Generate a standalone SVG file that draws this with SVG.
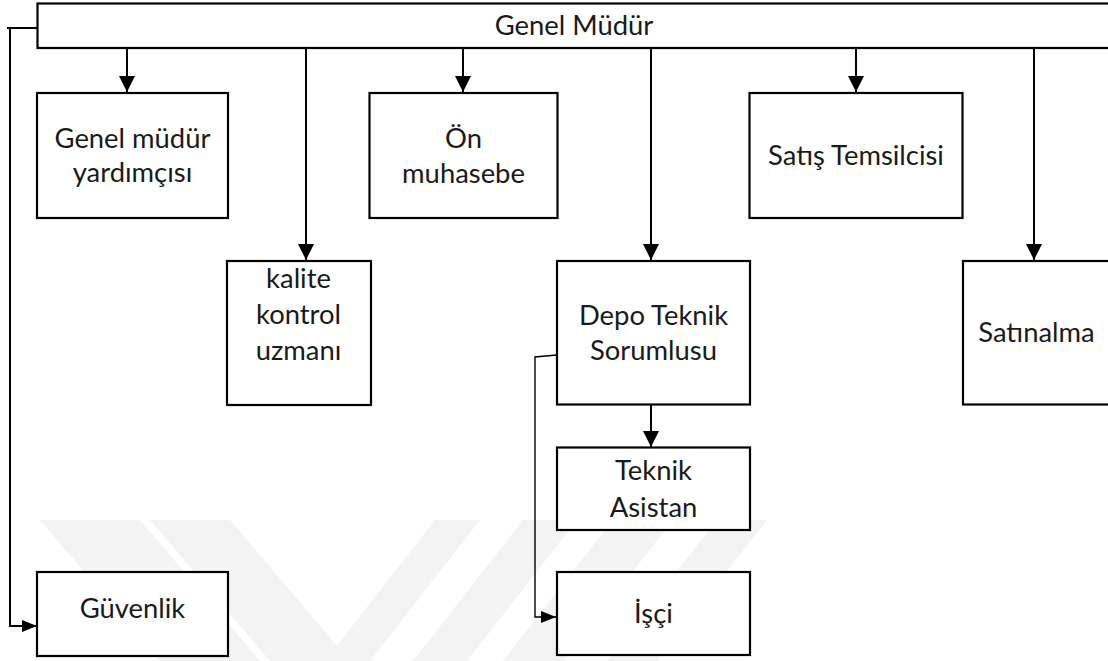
<svg xmlns="http://www.w3.org/2000/svg" width="1108" height="661" viewBox="0 0 1108 661">
<defs>
<style>
.box{fill:#fff;stroke:#000;stroke-width:2.2}
.lbl{font-family:Lato,"Liberation Sans",sans-serif;font-size:27.4px;fill:#1a1a1a;text-anchor:middle}
.con{fill:none;stroke:#000;stroke-width:2}
.thin{fill:none;stroke:#000;stroke-width:1.4}
.wm{fill:#f3f3f3}
</style>
<marker id="ah" markerUnits="userSpaceOnUse" markerWidth="16" markerHeight="16" viewBox="0 0 16 16" refX="16" refY="8" orient="auto">
<path d="M0 0 L16 8 L0 16 Z" fill="#000"/>
</marker>
<marker id="ahs" markerUnits="userSpaceOnUse" markerWidth="15" markerHeight="12" viewBox="0 0 15 12" refX="15" refY="6" orient="auto">
<path d="M0 0 L15 6 L0 12 Z" fill="#000"/>
</marker>
</defs>
<rect width="1108" height="661" fill="#fff"/>
<g id="watermark">
<polygon class="wm" points="40,520 140,520 260,661 160,661"/>
<polygon class="wm" points="150,520 230,520 350,661 270,661"/>
<polygon class="wm" points="435,520 480,520 370,661 325,661"/>
<polygon class="wm" points="523,520 577,520 467,661 413,661"/>
<polygon class="wm" points="613,520 673,520 563,661 503,661"/>
<polygon class="wm" points="717,520 767,520 657,661 607,661"/>
</g>
<g id="connectors">
<line class="con" x1="127" y1="48" x2="127" y2="92" marker-end="url(#ah)"/>
<line class="con" x1="306" y1="48" x2="306" y2="260" marker-end="url(#ah)"/>
<line class="con" x1="463" y1="48" x2="463" y2="92" marker-end="url(#ah)"/>
<line class="con" x1="651" y1="48" x2="651" y2="260" marker-end="url(#ah)"/>
<line class="con" x1="856" y1="48" x2="856" y2="92" marker-end="url(#ah)"/>
<line class="con" x1="1034" y1="48" x2="1034" y2="260" marker-end="url(#ah)"/>
<line class="con" x1="651" y1="404" x2="651" y2="447" marker-end="url(#ah)"/>
<path class="con" d="M37 28 H7"/>
<path class="con" d="M10 28 V626 H37" marker-end="url(#ahs)"/>
<path class="thin" d="M557 355 L535 357 V617 H556" marker-end="url(#ahs)"/>
</g>
<g id="genel-mudur">
<rect class="box" x="37.5" y="3.5" width="1080" height="44.5"/>
<text class="lbl" x="574" y="35">Genel Müdür</text>
</g>
<g id="genel-mudur-yardimcisi">
<rect class="box" x="37" y="93" width="191" height="125"/>
<text class="lbl" x="132.5" y="148">Genel müdür</text>
<text class="lbl" x="132.5" y="182">yardımçısı</text>
</g>
<g id="on-muhasebe">
<rect class="box" x="369.5" y="93" width="188" height="125"/>
<text class="lbl" x="463.5" y="148">Ön</text>
<text class="lbl" x="463.5" y="183">muhasebe</text>
</g>
<g id="satis-temsilcisi">
<rect class="box" x="749.5" y="93" width="213" height="125"/>
<text class="lbl" x="856" y="165">Satış Temsilcisi</text>
</g>
<g id="kalite-kontrol">
<rect class="box" x="227" y="261" width="144" height="144"/>
<text class="lbl" x="298.5" y="288">kalite</text>
<text class="lbl" x="298.5" y="324">kontrol</text>
<text class="lbl" x="298.5" y="360">uzmanı</text>
</g>
<g id="depo-teknik">
<rect class="box" x="557" y="261" width="193" height="143.5"/>
<text class="lbl" x="653.5" y="325">Depo Teknik</text>
<text class="lbl" x="653.5" y="360">Sorumlusu</text>
</g>
<g id="satinalma">
<rect class="box" x="963" y="261" width="160" height="143.5"/>
<text class="lbl" x="1036.5" y="342">Satınalma</text>
</g>
<g id="teknik-asistan">
<rect class="box" x="557" y="447.5" width="193" height="82.5"/>
<text class="lbl" x="653.5" y="480">Teknik</text>
<text class="lbl" x="653.5" y="517">Asistan</text>
</g>
<g id="isci">
<rect class="box" x="557" y="572" width="193" height="83"/>
<text class="lbl" x="653.5" y="623">İşçi</text>
</g>
<g id="guvenlik">
<rect class="box" x="37" y="572" width="191" height="84"/>
<text class="lbl" x="132.5" y="618">Güvenlik</text>
</g>
</svg>
